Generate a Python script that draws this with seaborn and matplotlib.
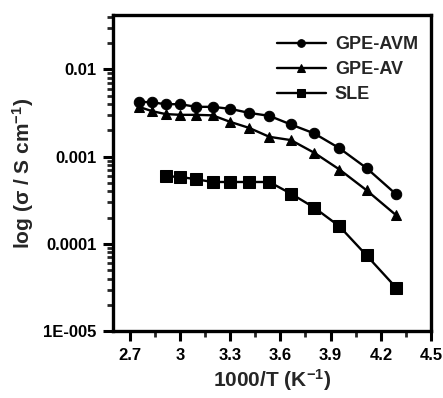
import matplotlib
matplotlib.use("Agg")
import matplotlib.pyplot as plt
import matplotlib.ticker as mticker
import seaborn as sns
import pandas as pd

x_gpe = [2.755, 2.833, 2.915, 3.003, 3.096, 3.195, 3.300, 3.413, 3.534, 3.663, 3.802, 3.953, 4.115, 4.292]
y_avm = [0.00427, 0.00420, 0.00400, 0.00400, 0.00373, 0.00373, 0.00354, 0.00318, 0.00294, 0.00234, 0.00185, 0.00125, 0.00074, 0.00037]
y_av = [0.00373, 0.00333, 0.00308, 0.00302, 0.00302, 0.00298, 0.00251, 0.00214, 0.00169, 0.00155, 0.00111, 0.000713, 0.000412, 0.000213]
x_sle = [2.915, 3.003, 3.096, 3.195, 3.300, 3.413, 3.534, 3.663, 3.802, 3.953, 4.115, 4.292]
y_sle = [0.000597, 0.000586, 0.000551, 0.000513, 0.000513, 0.000513, 0.000513, 0.000377, 0.000261, 0.000159, 0.0000738, 0.0000314]

series_names = ["GPE-AVM", "GPE-AV", "SLE"]
x_ticks = [2.7, 3.0, 3.3, 3.6, 3.9, 4.2, 4.5]
x_tick_labels = ["2.7", "3", "3.3", "3.6", "3.9", "4.2", "4.5"]
y_ticks = [1e-5, 1e-4, 1e-3, 1e-2]
y_tick_labels = ["1E-005", "0.0001", "0.001", "0.01"]

sns.set_style("ticks")
plt.rcParams['font.family'] = ['Liberation Sans', 'DejaVu Sans']
plt.rcParams['font.weight'] = 'bold'
plt.rcParams['mathtext.default'] = 'regular'

fig = plt.figure(figsize=(4.43, 3.98), dpi=100)
ax = fig.add_axes([0.255, 0.168, 0.718, 0.794])

df1 = pd.DataFrame({"x": x_gpe, "y": y_avm})
df2 = pd.DataFrame({"x": x_gpe, "y": y_av})
df3 = pd.DataFrame({"x": x_sle, "y": y_sle})

sns.lineplot(data=df1, x="x", y="y", ax=ax, color="black", marker="o", markersize=7.5,
             markeredgecolor="black", linewidth=1.7, label=series_names[0])
sns.lineplot(data=df2, x="x", y="y", ax=ax, color="black", marker="^", markersize=7.5,
             markeredgecolor="black", linewidth=1.7, label=series_names[1])
sns.lineplot(data=df3, x="x", y="y", ax=ax, color="black", marker="s", markersize=8,
             markeredgecolor="black", linewidth=1.7, label=series_names[2])

ax.set_yscale("log")
ax.set_xlim(2.6, 4.5)
ax.set_ylim(1e-5, 0.042)

ax.xaxis.set_major_locator(mticker.FixedLocator(x_ticks))
ax.xaxis.set_major_formatter(mticker.FixedFormatter(x_tick_labels))
ax.xaxis.set_minor_locator(mticker.FixedLocator([2.85, 3.15, 3.45, 3.75, 4.05, 4.35]))
ax.yaxis.set_major_locator(mticker.FixedLocator(y_ticks))
ax.yaxis.set_major_formatter(mticker.FixedFormatter(y_tick_labels))
ax.yaxis.set_minor_locator(mticker.LogLocator(base=10, subs=range(2, 10)))
ax.yaxis.set_minor_formatter(mticker.NullFormatter())

for s in ax.spines.values():
    s.set_linewidth(2.4)
    s.set_color("black")
ax.tick_params(axis="both", which="major", direction="out", length=7, width=2.2,
               labelsize=12, pad=5, colors="black")
ax.tick_params(axis="both", which="minor", direction="out", length=4, width=2)
ax.tick_params(top=False, right=False, which="both")
for lbl in ax.get_xticklabels() + ax.get_yticklabels():
    lbl.set_fontweight("bold")

ax.set_xlabel("1000/T (K$^{-1}$)", fontsize=15, fontweight="bold", labelpad=3)
ax.set_ylabel("log ($\\sigma$ / S cm$^{-1}$)", fontsize=15, fontweight="bold", labelpad=5)

leg = ax.legend(loc="upper right", bbox_to_anchor=(1.01, 0.985), frameon=False,
                handlelength=2.7, borderaxespad=0.5, labelspacing=0.45, handletextpad=0.5,
                prop={"weight": "bold", "size": 13})
for h in leg.legend_handles:
    h.set_markersize(5.5)

fig.savefig("out.png", dpi=100)
